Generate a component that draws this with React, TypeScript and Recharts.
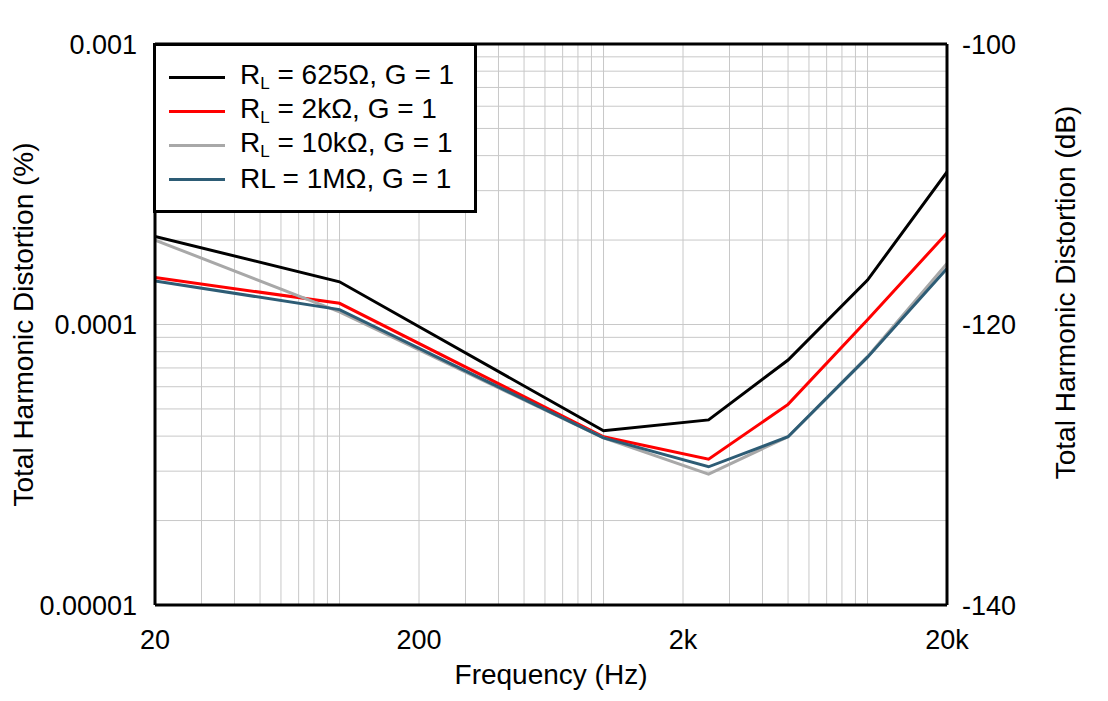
import React from "react";
import {
  CartesianGrid,
  Label,
  Legend,
  Line,
  LineChart,
  ReferenceLine,
  XAxis,
  YAxis,
} from "recharts";

const FONT = "'Liberation Sans', Arial, sans-serif";

// frequency points (Hz)
const freqs = [20, 100, 1000, 2500, 5000, 10000, 20000];

// THD (%)
const thd625 = [2.06e-4, 1.42e-4, 4.18e-5, 4.57e-5, 7.47e-5, 1.44e-4, 3.5e-4];
const thd2k = [1.47e-4, 1.19e-4, 3.98e-5, 3.31e-5, 5.19e-5, 1.04e-4, 2.12e-4];
const thd10k = [2.0e-4, 1.11e-4, 3.94e-5, 2.93e-5, 3.98e-5, 7.68e-5, 1.65e-4];
const thd1M = [1.43e-4, 1.13e-4, 3.94e-5, 3.11e-5, 3.98e-5, 7.65e-5, 1.585e-4];

const xMajor = [20, 200, 2000, 20000];
const xMajorLabels = ["20", "200", "2k", "20k"];
const yMajor = [1e-5, 1e-4, 1e-3];
const yMajorLabels = ["0.00001", "0.0001", "0.001"];
const dbTicks = [-140, -120, -100];

// grid lines at every 1..9 step of each decade
const steps = [1, 2, 3, 4, 5, 6, 7, 8, 9];
const xGrid = [20, 30, 40, 50, 60, 70, 80, 90]
  .concat(...[100, 1000, 10000].map((d) => steps.map((s) => s * d)))
  .filter((v) => v <= 20000);
const yGrid = [1e-5, 1e-4]
  .flatMap((d) => steps.map((s) => s * d))
  .concat([1e-3]);

const series = [
  { key: "r625", color: "#000000", sub: true, rest: " = 625\u03A9, G = 1", values: thd625 },
  { key: "r2k", color: "#ff0000", sub: true, rest: " = 2k\u03A9, G = 1", values: thd2k },
  { key: "r10k", color: "#a8a8a8", sub: true, rest: " = 10k\u03A9, G = 1", values: thd10k },
  { key: "r1M", color: "#2d5c75", sub: false, rest: " = 1M\u03A9, G = 1", values: thd1M },
];

const data = freqs.map((f, i) => {
  const row: Record<string, number> = { f };
  series.forEach((s) => {
    row[s.key] = s.values[i];
  });
  return row;
});

function near(a: number, b: number) {
  return Math.abs(a / b - 1) < 1e-6;
}

function xTickFmt(v: number) {
  const i = xMajor.findIndex((m) => near(v, m));
  return i >= 0 ? xMajorLabels[i] : "";
}

function yTickFmt(v: number) {
  const i = yMajor.findIndex((m) => near(v, m));
  return i >= 0 ? yMajorLabels[i] : "";
}

function renderLegend() {
  return (
    <div
      style={{
        width: 324,
        height: 170,
        boxSizing: "border-box",
        border: "3px solid #000",
        background: "#fff",
        position: "relative",
        fontFamily: FONT,
        color: "#000",
      }}
    >
      {series.map((s, i) => (
        <div
          key={s.key}
          style={{
            position: "absolute",
            left: 13,
            top: 14 + i * 34,
            height: 34,
            display: "flex",
            alignItems: "center",
            whiteSpace: "nowrap",
          }}
        >
          <span style={{ display: "inline-block", width: 56, height: 3, background: s.color }} />
          <span style={{ marginLeft: 15, fontSize: 28, lineHeight: "34px" }}>
            R
            {s.sub ? (
              <span style={{ fontSize: 17, position: "relative", top: 5 }}>L</span>
            ) : (
              "L"
            )}
            {s.rest}
          </span>
        </div>
      ))}
    </div>
  );
}

function sideTitle(text: string, x: number, yShift: number) {
  return (props: any) => {
    const vb = props.viewBox || {};
    const cy = vb.y + vb.height / 2 + yShift;
    return (
      <text
        x={x}
        y={cy}
        transform={`rotate(-90 ${x} ${cy})`}
        textAnchor="middle"
        fontSize={28}
        fontFamily={FONT}
        fill="#000"
      >
        {text}
      </text>
    );
  };
}

export default function App() {
  return (
    <div style={{ position: "absolute", left: 0, top: 0, width: 1108, height: 701, background: "#fff" }}>
      <LineChart
        width={1108}
        height={701}
        data={data}
        margin={{ top: 44, right: 10, bottom: 10, left: 10 }}
      >
        <CartesianGrid stroke="#c8c8c8" strokeWidth={1} />
        <XAxis
          dataKey="f"
          type="number"
          scale="log"
          domain={[20, 20000]}
          ticks={xGrid}
          interval={0}
          tickFormatter={xTickFmt}
          tickLine={false}
          tickMargin={19}
          height={86}
          axisLine={{ stroke: "#000", strokeWidth: 3 }}
          tick={{ fill: "#000", fontSize: 27, fontFamily: FONT }}
          allowDataOverflow
        >
          <Label
            value="Frequency (Hz)"
            position="insideBottom"
            offset={7}
            style={{ fontSize: 28, fontFamily: FONT, fill: "#000" }}
          />
        </XAxis>
        <YAxis
          type="number"
          scale="log"
          domain={[1e-5, 1e-3]}
          ticks={yGrid}
          interval={0}
          tickFormatter={yTickFmt}
          tickLine={false}
          tickMargin={12}
          width={145}
          axisLine={{ stroke: "#000", strokeWidth: 3 }}
          tick={{ fill: "#000", fontSize: 27, fontFamily: FONT }}
          allowDataOverflow
        >
          <Label content={sideTitle("Total Harmonic Distortion (%)", 33, 0)} />
        </YAxis>
        <YAxis
          yAxisId="db"
          orientation="right"
          type="number"
          domain={[-140, -100]}
          ticks={dbTicks}
          interval={0}
          tickLine={false}
          tickMargin={9}
          width={151}
          axisLine={{ stroke: "#000", strokeWidth: 3 }}
          tick={{ fill: "#000", fontSize: 27, fontFamily: FONT }}
          allowDataOverflow
        >
          <Label content={sideTitle("Total Harmonic Distortion (dB)", 1075, -32)} />
        </YAxis>
        <ReferenceLine y={1e-3} stroke="#000" strokeWidth={3} />
        {series.map((s) => (
          <Line
            key={s.key}
            dataKey={s.key}
            type="linear"
            stroke={s.color}
            strokeWidth={3}
            dot={false}
            isAnimationActive={false}
          />
        ))}
        <Legend
          layout="horizontal"
          verticalAlign="middle"
          align="center"
          content={renderLegend}
          wrapperStyle={{ position: "absolute", left: 153, top: 43, width: 324, height: 170 }}
        />
      </LineChart>
    </div>
  );
}
